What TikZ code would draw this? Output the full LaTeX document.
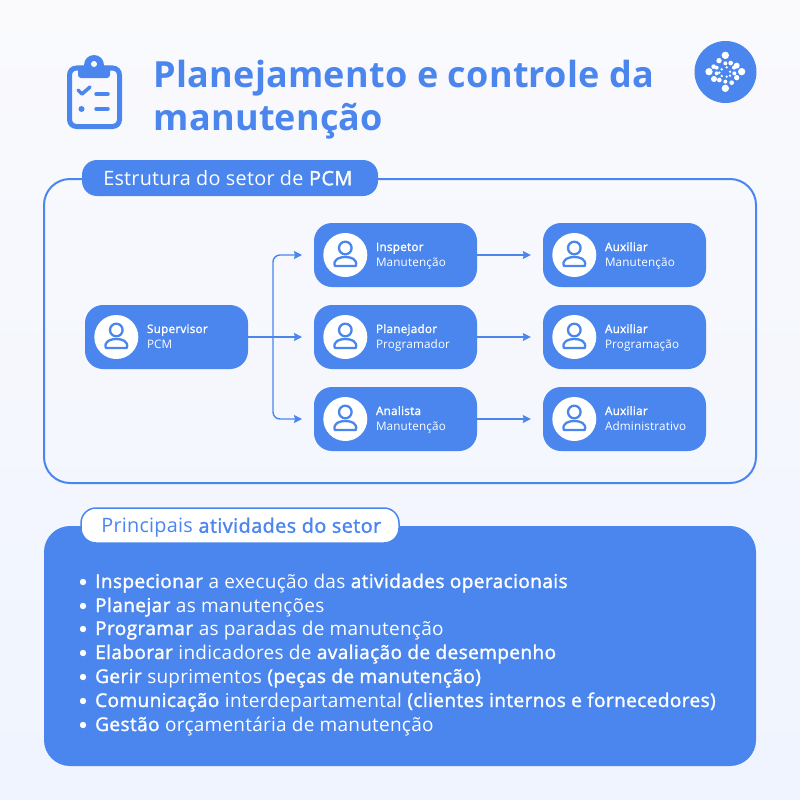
\documentclass[tikz,border=0pt]{standalone}
\usepackage{fontspec}
\setmainfont{Open Sans}[LetterSpace=1.3,BoldFont={Open Sans},BoldFeatures={FakeBold=1.6,LetterSpace=2.2}]
\newfontfamily\titlefont{Open Sans}[LetterSpace=0.65]
\usetikzlibrary{arrows.meta,calc}
\definecolor{pcmblue}{HTML}{4A86EE}
\definecolor{bgtop}{HTML}{FAFAFD}
\definecolor{bgbot}{HTML}{EFF4FE}
\newcommand{\fs}[1]{\fontsize{#1}{#1}\selectfont}
\tikzset{
  personbox/.style={fill=pcmblue,rounded corners=18pt,minimum width=163pt,minimum height=64pt,inner sep=0pt},
  flow/.style={draw=pcmblue,line width=1.4pt,-{Stealth[length=8pt,width=8pt,inset=1pt]}},
  rolelabel/.style={anchor=west,text=white,inner sep=0pt,align=left,font=\fs{11.7},text height=9pt,text depth=2pt},
  pilltext/.style={inner sep=0pt,font=\fs{19.8},text height=17pt,text depth=2.5pt,rounded corners=15pt},
}
\newcommand{\personbox}[5]{%
  \node[personbox] (#1) at (#2,#3) {};
  \fill[white] ($(#1.west)+(31.5,0)$) circle (22);
  \draw[pcmblue,line width=2.3pt] ($(#1.west)+(31.5,-7)$) circle (6.3);
  \draw[pcmblue,line width=2.3pt,line join=round] ($(#1.west)+(21,11)$) -- ($(#1.west)+(42,11)$) .. controls ($(#1.west)+(44,4)$) and ($(#1.west)+(37,2)$) .. ($(#1.west)+(31.5,2)$) .. controls ($(#1.west)+(26,2)$) and ($(#1.west)+(19,4)$) .. cycle;
  \node[rolelabel] (#1b) at ($(#1.west)+(62,-7.5)$) {\bfseries #4};
  \node[rolelabel] (#1l) at ($(#1.west)+(62,7.5)$) {#5};
}
\begin{document}
\begin{tikzpicture}[x=1pt,y=-1pt]
\useasboundingbox (0,0) rectangle (800,800);
\fill[top color=bgtop,bottom color=bgbot] (0,0) rectangle (800,800);
% clipboard
\draw[pcmblue,line width=5pt,rounded corners=7pt] (69.5,68) rectangle (119.5,126.5);
\fill[pcmblue] (94,65) circle (10);
\fill[pcmblue,rounded corners=3pt] (78,66) rectangle (110,78);
\fill[pcmblue] (78,66) rectangle (110,72);
\fill[white] (94,64) circle (3);
\draw[pcmblue,line width=3.5pt,line cap=round,line join=round] (78,90) -- (82,94) -- (90,87);
\draw[pcmblue,line width=3.5pt,line cap=round] (96,94) -- (108,94);
\fill[pcmblue] (81.5,109) circle (3);
\draw[pcmblue,line width=3.5pt,line cap=round] (96,109) -- (108,109);
% title
\node[anchor=base west,inner sep=0pt,text=pcmblue,font=\fs{36}\titlefont\bfseries] (title1) at (153.5,87) {Planejamento e controle da};
\node[anchor=base west,inner sep=0pt,text=pcmblue,font=\fs{36}\titlefont\bfseries] (title2) at (153.5,130) {manutenção};
% logo
\fill[pcmblue] (725.5,72) circle (31);
\foreach \a/\b/\r in {136/76/11,117/92/8,136/100/6,152/99/7,170/107/9,101/110/7,87/125/11,110/113/6,185/125/11,102/147/9,118/150/7,136/155/6,155/158/7,170/143/8,136/175/11,110/130/6,162/113/6,163/130/6,125/118/4,140/112/4,150/125/4,125/138/4,140/140/4,150/137/4,118/128/4}
  \fill[white] ({680+\a/3},{30+\b/3}) circle ({\r/3});
% upper panel
\draw[pcmblue,line width=2pt,rounded corners=26pt] (44,179) rectangle (756,483);
\node[pilltext,fill=pcmblue,minimum width=296pt,minimum height=36pt,text=white] (pill1) at (230,178) {Estrutura do setor de \textbf{PCM}\hspace*{4pt}};
% people
\personbox{sup}{166.5}{337}{Supervisor}{PCM}
\personbox{ins}{395.5}{255}{Inspetor}{Manutenção}
\personbox{pla}{395.5}{337}{Planejador}{Programador}
\personbox{ana}{395.5}{419}{Analista}{Manutenção}
\personbox{aux1}{624.5}{255}{Auxiliar}{Manutenção}
\personbox{aux2}{624.5}{337}{Auxiliar}{Programação}
\personbox{aux3}{624.5}{419}{Auxiliar}{Administrativo}
% connectors
\coordinate (fork) at (273,337);
\coordinate (gap1) at (302,255);
\coordinate (gap2) at (302,337);
\coordinate (gap3) at (302,419);
\draw[flow] (sup.east) -- (gap2);
\draw[flow,rounded corners=7pt] (fork) -- (273,255) -- (gap1);
\draw[flow,rounded corners=7pt] (fork) -- (273,419) -- (gap3);
\foreach \s/\t in {ins/aux1,pla/aux2,ana/aux3}
  \draw[flow] (\s.east) -- ($(\t.west)+(-12,0)$);
% lower panel
\fill[pcmblue,rounded corners=26pt] (44,526) rectangle (756,766);
\node[pilltext,fill=white,draw=pcmblue,line width=1.5pt,minimum width=318pt,minimum height=35pt,text=pcmblue] (pill2) at (240,525.5) {\hspace*{3pt}Principais \textbf{atividades do setor}};
\foreach \y/\t in {
 582/{\textbf{Inspecionar} a execução das \textbf{atividades operacionais}},
 606/{\textbf{Planejar} as manutenções},
 629/{\textbf{Programar} as paradas de manutenção},
 653/{\textbf{Elaborar} indicadores de \textbf{avaliação de desempenho}},
 677/{\textbf{Gerir} suprimentos \textbf{(peças de manutenção)}},
 701/{\textbf{Comunicação} interdepartamental \textbf{(clientes internos e fornecedores)}},
 725/{\textbf{Gestão} orçamentária de manutenção}}{
  \fill[white] (83,\y) circle (3.2);
  \node[anchor=west,inner sep=0pt,text=white,font=\fs{19},text height=14pt,text depth=4pt] at (95,\y+1) {\t};
}
\end{tikzpicture}
\end{document}
